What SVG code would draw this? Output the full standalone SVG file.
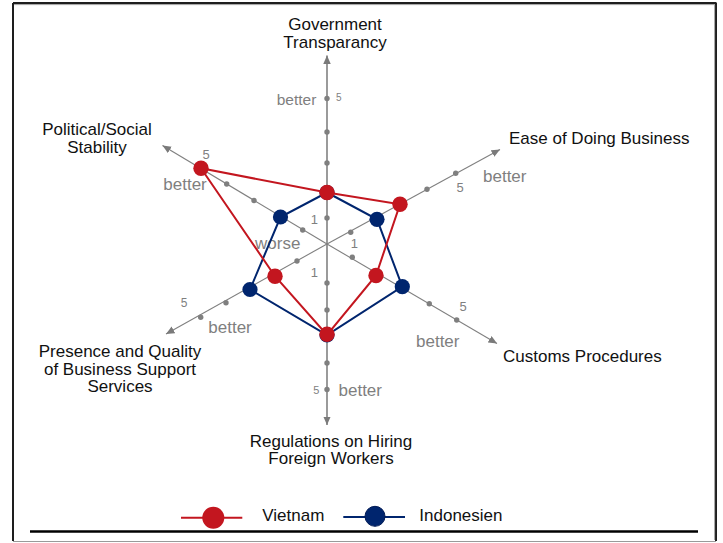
<svg xmlns="http://www.w3.org/2000/svg" width="723" height="543" viewBox="0 0 723 543">
<defs>
<marker id="arr" markerUnits="userSpaceOnUse" markerWidth="9" markerHeight="8" refX="8.5" refY="3.75" orient="auto">
<path d="M0,0 L8.5,3.75 L0,7.5 z" fill="#7a7a7a"/>
</marker>
<style>
text{font-family:"Liberation Sans",Arial,sans-serif}
.lbl{font-size:17px;fill:#111}
.g{fill:#7f7f7f}
.bt{font-size:17px}
.ax{stroke:#808080;stroke-width:1.1;fill:none}
.axv{stroke:#707070;stroke-width:1.4;fill:none}
.tk{fill:#7f7f7f}
.vn{fill:#c3161f}
.id{fill:#00256e}
.vnl{stroke:#c3161f;stroke-width:2;fill:none}
.idl{stroke:#00256e;stroke-width:2;fill:none}
</style>
</defs>
<rect x="0" y="0" width="723" height="543" fill="#fff"/>
<g id="frame">
<line x1="13" y1="3" x2="716.5" y2="3" stroke="#1e1e1e" stroke-width="2"/>
<line x1="13" y1="4.6" x2="716" y2="4.6" stroke="#a0a0a0" stroke-width="1"/>
<line x1="13" y1="3" x2="13" y2="541" stroke="#1e1e1e" stroke-width="2"/>
<line x1="716" y1="3" x2="716" y2="541" stroke="#1e1e1e" stroke-width="2"/>
<line x1="714.6" y1="5" x2="714.6" y2="540" stroke="#a0a0a0" stroke-width="1"/>
<line x1="13" y1="541.5" x2="716" y2="541.5" stroke="#9a9a9a" stroke-width="1.2"/>
<line x1="30" y1="531.5" x2="698" y2="531.5" stroke="#000" stroke-width="2.6"/>
</g>
<g id="connectors">
<line class="axv" x1="327" y1="244" x2="327" y2="55.5" marker-end="url(#arr)"/>
<line class="axv" x1="327" y1="244" x2="327" y2="425" marker-end="url(#arr)"/>
<line class="ax" x1="327" y1="244" x2="162.5" y2="145.5" marker-end="url(#arr)"/>
<line class="ax" x1="327" y1="244" x2="500" y2="149.5" marker-end="url(#arr)"/>
<line class="ax" x1="327" y1="244" x2="497" y2="343.5" marker-end="url(#arr)"/>
<line class="ax" x1="327" y1="244" x2="166" y2="334" marker-end="url(#arr)"/>
</g>
<g id="ticks">
<circle class="tk" cx="327" cy="218" r="2.7"/>
<circle class="tk" cx="327" cy="163" r="2.7"/>
<circle class="tk" cx="327" cy="132" r="2.7"/>
<circle class="tk" cx="327" cy="98.5" r="2.7"/>
<circle class="tk" cx="327" cy="283" r="2.7"/>
<circle class="tk" cx="327" cy="310" r="2.7"/>
<circle class="tk" cx="327" cy="363" r="2.7"/>
<circle class="tk" cx="327" cy="389.5" r="2.7"/>
<circle class="tk" cx="302.7" cy="230" r="2.7"/>
<circle class="tk" cx="254" cy="200.5" r="2.7"/>
<circle class="tk" cx="226.7" cy="184" r="2.7"/>
<circle class="tk" cx="350.7" cy="232.3" r="2.7"/>
<circle class="tk" cx="427" cy="189.3" r="2.7"/>
<circle class="tk" cx="455.7" cy="173.3" r="2.7"/>
<circle class="tk" cx="352.3" cy="257.3" r="2.7"/>
<circle class="tk" cx="429.3" cy="303.7" r="2.7"/>
<circle class="tk" cx="456.7" cy="320" r="2.7"/>
<circle class="tk" cx="297" cy="261" r="2.7"/>
<circle class="tk" cx="226" cy="302.7" r="2.7"/>
<circle class="tk" cx="200.7" cy="317.3" r="2.7"/>
</g>
<g id="scale-labels" class="g">
<text x="336" y="101" font-size="10">5</text>
<text x="206" y="159.3" font-size="13" text-anchor="middle">5</text>
<text x="460" y="192" font-size="13" text-anchor="middle">5</text>
<text x="463" y="310.5" font-size="13" text-anchor="middle">5</text>
<text x="184" y="307" font-size="12" text-anchor="middle">5</text>
<text x="316.3" y="394" font-size="11" text-anchor="middle">5</text>
<text x="314.3" y="224" font-size="13" text-anchor="middle">1</text>
<text x="354.3" y="248.3" font-size="13" text-anchor="middle">1</text>
<text x="314.3" y="276.7" font-size="13" text-anchor="middle">1</text>
<text x="255" y="248.5" class="bt">worse</text>
<text x="276.7" y="105" font-size="15.5">better</text>
<text x="163.3" y="190" class="bt">better</text>
<text x="483" y="182.3" class="bt">better</text>
<text x="416" y="346.5" class="bt">better</text>
<text x="208.3" y="332.7" class="bt">better</text>
<text x="338.5" y="395.5" class="bt">better</text>
</g>
<g id="series-indonesien">
<polygon class="idl" points="327,192.5 377,219.3 402.3,286.7 327,335 250,289.5 280.5,217"/>
<circle class="id" cx="377" cy="219.3" r="7.6"/>
<circle class="id" cx="402.3" cy="286.7" r="7.6"/>
<circle class="id" cx="327" cy="335" r="7.6"/>
<circle class="id" cx="250" cy="289.5" r="7.6"/>
<circle class="id" cx="280.5" cy="217" r="7.6"/>
<circle class="id" cx="327" cy="192.5" r="7.6"/>
</g>
<g id="series-vietnam">
<polygon class="vnl" points="327,192.5 400,204.3 376,275.5 327,335 275,276.2 201,168.3"/>
<circle class="vn" cx="327" cy="192.5" r="7.7"/>
<circle class="vn" cx="400" cy="204.3" r="7.7"/>
<circle class="vn" cx="376" cy="275.5" r="7.7"/>
<circle class="vn" cx="327" cy="334.3" r="7.7"/>
<circle class="vn" cx="275" cy="276.2" r="7.7"/>
<circle class="vn" cx="201" cy="168.3" r="7.7"/>
</g>
<g id="node-government-transparancy">
<text class="lbl" x="335" y="30" text-anchor="middle">Government</text>
<text class="lbl" x="335" y="47.5" text-anchor="middle">Transparancy</text>
</g>
<g id="node-ease-of-doing-business">
<text class="lbl" x="509" y="144">Ease of Doing Business</text>
</g>
<g id="node-customs-procedures">
<text class="lbl" x="503" y="362">Customs Procedures</text>
</g>
<g id="node-regulations-on-hiring">
<text class="lbl" x="331" y="446.5" text-anchor="middle">Regulations on Hiring</text>
<text class="lbl" x="331" y="464" text-anchor="middle">Foreign Workers</text>
</g>
<g id="node-presence-and-quality">
<text class="lbl" x="120" y="357" text-anchor="middle">Presence and Quality</text>
<text class="lbl" x="120" y="374.5" text-anchor="middle">of Business Support</text>
<text class="lbl" x="120" y="392" text-anchor="middle">Services</text>
</g>
<g id="node-political-social-stability">
<text class="lbl" x="97" y="135" text-anchor="middle">Political/Social</text>
<text class="lbl" x="97" y="152.5" text-anchor="middle">Stability</text>
</g>
<g id="legend">
<line x1="181" y1="517.7" x2="242.3" y2="517.7" stroke="#c3161f" stroke-width="2"/>
<circle cx="213.3" cy="517.7" r="11" fill="#c3161f"/>
<text class="lbl" x="262.3" y="520.7">Vietnam</text>
<line x1="343.3" y1="517" x2="405" y2="517" stroke="#00256e" stroke-width="2"/>
<circle cx="375" cy="516.3" r="10" fill="#00256e" stroke="#001a55" stroke-width="1"/>
<text class="lbl" x="419.3" y="520.7">Indonesien</text>
</g>
</svg>
